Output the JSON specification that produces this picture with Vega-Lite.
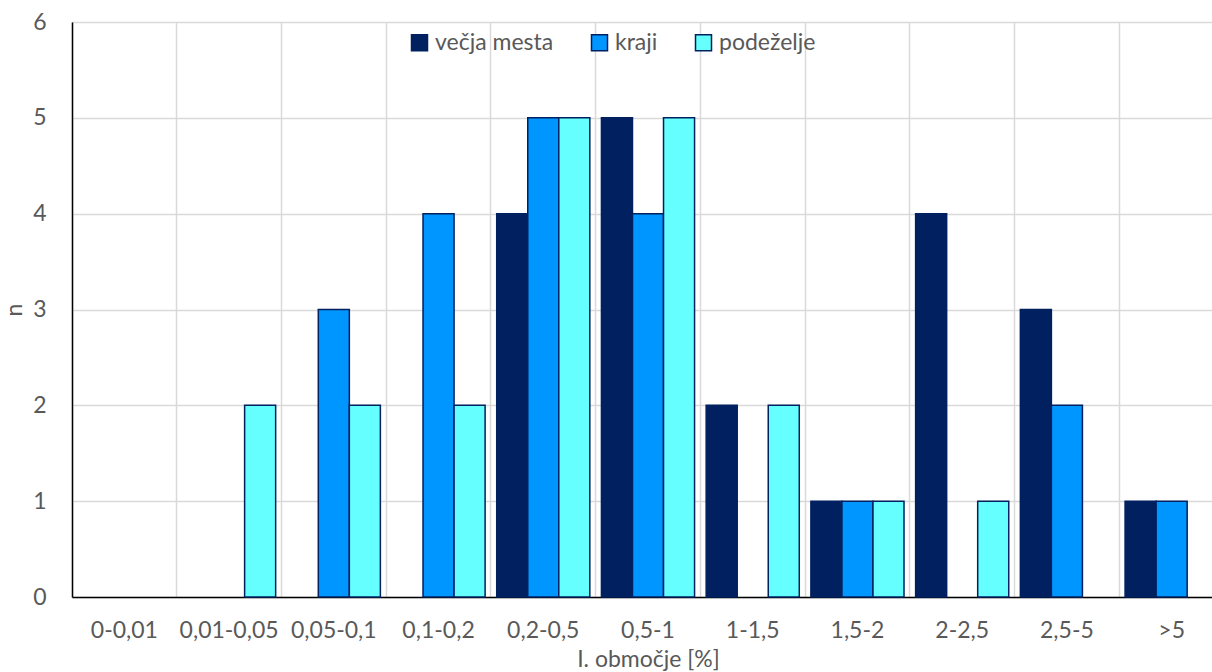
{
  "$schema": "https://vega.github.io/schema/vega-lite/v6.json",
  "autosize": {"type": "none"},
  "padding": {"left": 72, "top": 22, "right": 0, "bottom": 75},
  "width": 1152,
  "height": 575,
  "background": "white",
  "config": {
    "font": "Lato",
    "view": {"stroke": null},
    "axis": {"labelColor": "#595959", "titleColor": "#595959", "labelFontSize": 23, "titleFontSize": 23, "titleFontWeight": "normal", "labelFont": "Lato", "titleFont": "Lato"},
    "legend": {"labelColor": "#595959", "labelFontSize": 23, "labelFont": "Lato"}
  },
  "data": {
    "values": [
      {"cat": "0-0,01", "series": "večja mesta", "n": 0},
      {"cat": "0-0,01", "series": "kraji", "n": 0},
      {"cat": "0-0,01", "series": "podeželje", "n": 0},
      {"cat": "0,01-0,05", "series": "večja mesta", "n": 0},
      {"cat": "0,01-0,05", "series": "kraji", "n": 0},
      {"cat": "0,01-0,05", "series": "podeželje", "n": 2},
      {"cat": "0,05-0,1", "series": "večja mesta", "n": 0},
      {"cat": "0,05-0,1", "series": "kraji", "n": 3},
      {"cat": "0,05-0,1", "series": "podeželje", "n": 2},
      {"cat": "0,1-0,2", "series": "večja mesta", "n": 0},
      {"cat": "0,1-0,2", "series": "kraji", "n": 4},
      {"cat": "0,1-0,2", "series": "podeželje", "n": 2},
      {"cat": "0,2-0,5", "series": "večja mesta", "n": 4},
      {"cat": "0,2-0,5", "series": "kraji", "n": 5},
      {"cat": "0,2-0,5", "series": "podeželje", "n": 5},
      {"cat": "0,5-1", "series": "večja mesta", "n": 5},
      {"cat": "0,5-1", "series": "kraji", "n": 4},
      {"cat": "0,5-1", "series": "podeželje", "n": 5},
      {"cat": "1-1,5", "series": "večja mesta", "n": 2},
      {"cat": "1-1,5", "series": "kraji", "n": 0},
      {"cat": "1-1,5", "series": "podeželje", "n": 2},
      {"cat": "1,5-2", "series": "večja mesta", "n": 1},
      {"cat": "1,5-2", "series": "kraji", "n": 1},
      {"cat": "1,5-2", "series": "podeželje", "n": 1},
      {"cat": "2-2,5", "series": "večja mesta", "n": 4},
      {"cat": "2-2,5", "series": "kraji", "n": 0},
      {"cat": "2-2,5", "series": "podeželje", "n": 1},
      {"cat": "2,5-5", "series": "večja mesta", "n": 3},
      {"cat": "2,5-5", "series": "kraji", "n": 2},
      {"cat": "2,5-5", "series": "podeželje", "n": 0},
      {"cat": ">5", "series": "večja mesta", "n": 1},
      {"cat": ">5", "series": "kraji", "n": 1},
      {"cat": ">5", "series": "podeželje", "n": 0}
    ]
  },
  "transform": [{"filter": "datum.n > 0"}],
  "mark": {"type": "bar", "stroke": "#002060", "strokeWidth": 1.5},
  "encoding": {
    "x": {
      "field": "cat",
      "type": "nominal",
      "scale": {
        "domain": ["0-0,01", "0,01-0,05", "0,05-0,1", "0,1-0,2", "0,2-0,5", "0,5-1", "1-1,5", "1,5-2", "2-2,5", "2,5-5", ">5"],
        "paddingInner": 0,
        "paddingOuter": 0
      },
      "axis": {
        "title": "I. območje [%]",
        "titlePadding": 6,
        "labelAngle": 0,
        "bandPosition": 0,
        "labelPadding": 22,
        "ticks": false,
        "grid": true,
        "gridColor": "#d9d9d9",
        "gridWidth": 1.5,
        "domainColor": "#000000",
        "domainWidth": 1.5
      }
    },
    "xOffset": {
      "field": "series",
      "type": "nominal",
      "scale": {"domain": ["večja mesta", "kraji", "podeželje"], "paddingInner": 0, "paddingOuter": 0.187}
    },
    "y": {
      "field": "n",
      "type": "quantitative",
      "scale": {"domain": [0, 6], "nice": false},
      "axis": {
        "title": "n",
        "values": [0, 1, 2, 3, 4, 5, 6],
        "ticks": false,
        "labelPadding": 26,
        "titlePadding": 6,
        "grid": true,
        "gridColor": "#d9d9d9",
        "gridWidth": 1.5,
        "domainColor": "#000000",
        "domainWidth": 1.5
      }
    },
    "color": {
      "field": "series",
      "type": "nominal",
      "scale": {"domain": ["večja mesta", "kraji", "podeželje"], "range": ["#002060", "#0096ff", "#66ffff"]},
      "legend": {
        "title": null,
        "orient": "none",
        "legendX": 336,
        "legendY": 9,
        "direction": "horizontal",
        "symbolType": "square",
        "symbolSize": 256,
        "symbolStrokeColor": "#002060",
        "symbolStrokeWidth": 1.5,
        "symbolOpacity": 1,
        "labelOffset": 4,
        "columnPadding": 34
      }
    }
  }
}
